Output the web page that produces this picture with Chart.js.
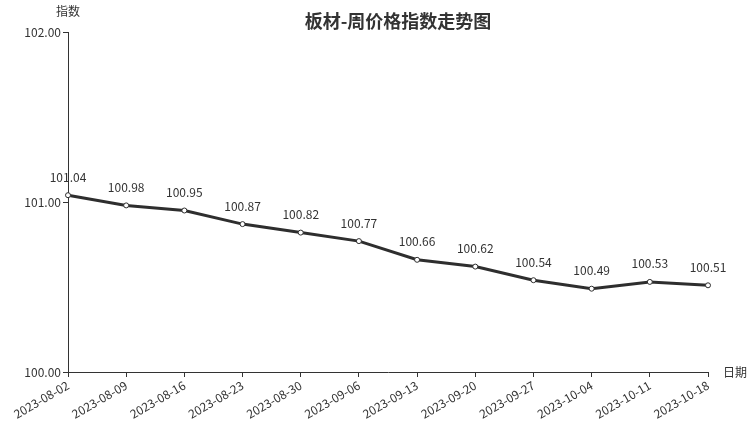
<!DOCTYPE html>
<html>
<head>
<meta charset="utf-8">
<script src="https://cdn.jsdelivr.net/npm/chart.js@4/dist/chart.umd.min.js"></script>
<style>
  html, body { margin: 0; padding: 0; background: #fff; }
  #wrap { width: 752px; height: 427px; position: relative; }
</style>
</head>
<body>
<div id="wrap"><canvas id="myChart"></canvas></div>
<script>
// 数据
const dates = ['2023-08-02', '2023-08-09', '2023-08-16', '2023-08-23', '2023-08-30', '2023-09-06',
               '2023-09-13', '2023-09-20', '2023-09-27', '2023-10-04', '2023-10-11', '2023-10-18'];
const indexValues = [101.04, 100.98, 100.95, 100.87, 100.82, 100.77, 100.66, 100.62, 100.54, 100.49, 100.53, 100.51];
const yTicks = [100, 101, 102];

const FONT = '"Noto Sans CJK SC", "Noto Sans", sans-serif';
const TEXT = '#333';

// 标题、轴名称和数值标签
const labelsPlugin = {
    id: 'labels',
    afterDatasetsDraw(chart) {
        const ctx = chart.ctx;
        const area = chart.chartArea;
        ctx.save();
        ctx.fillStyle = TEXT;

        ctx.font = 'bold 18px ' + FONT;
        ctx.textAlign = 'center';
        ctx.textBaseline = 'middle';
        ctx.fillText('板材-周价格指数走势图', 398, 21);

        ctx.font = '12px ' + FONT;
        ctx.fillText('指数', area.left, 11);
        ctx.textAlign = 'left';
        ctx.fillText('日期', area.right + 15, area.bottom);

        ctx.textAlign = 'center';
        ctx.textBaseline = 'bottom';
        chart.getDatasetMeta(0).data.forEach((pt, i) => {
            ctx.fillText(indexValues[i].toFixed(2), pt.x, pt.y - 12);
        });
        ctx.restore();
    }
};

const config = {
    type: 'line',
    data: {
        labels: dates,
        datasets: [{
            label: '指数',
            data: indexValues,
            borderColor: '#2e2e2e',
            borderWidth: 3,
            tension: 0,
            pointRadius: 2.5,
            pointBackgroundColor: '#fff',
            pointBorderColor: '#2e2e2e',
            pointBorderWidth: 1
        }]
    },
    options: {
        responsive: false,
        animation: false,
        layout: { padding: { top: 32, right: 44, left: 0, bottom: 0 } },
        plugins: {
            legend: { display: false },
            tooltip: { enabled: false },
            title: { display: false }
        },
        scales: {
            x: {
                offset: false,
                grid: { display: true, drawOnChartArea: false, drawTicks: true, tickLength: 5, color: TEXT },
                border: { display: true, color: TEXT, width: 1 },
                ticks: {
                    color: TEXT,
                    font: { family: FONT, size: 12 },
                    minRotation: 30,
                    maxRotation: 30,
                    padding: 1,
                    autoSkip: false
                },
                afterFit(s) { s.height = 55; s.paddingLeft = 0; s.paddingRight = 0; }
            },
            y: {
                min: 100,
                max: 102,
                afterBuildTicks(s) { s.ticks = yTicks.map(v => ({ value: v })); },
                grid: { display: true, drawOnChartArea: false, drawTicks: true, tickLength: 5, color: TEXT },
                border: { display: true, color: TEXT, width: 1 },
                ticks: {
                    color: TEXT,
                    font: { family: FONT, size: 12 },
                    padding: 2,
                    callback: v => Number(v).toFixed(2)
                },
                afterFit(s) { s.width = 68; s.paddingTop = 0; s.paddingBottom = 0; }
            }
        }
    },
    plugins: [labelsPlugin]
};

const canvas = document.getElementById('myChart');
canvas.width = 752;
canvas.height = 427;
new Chart(canvas, config);
</script>
</body>
</html>
